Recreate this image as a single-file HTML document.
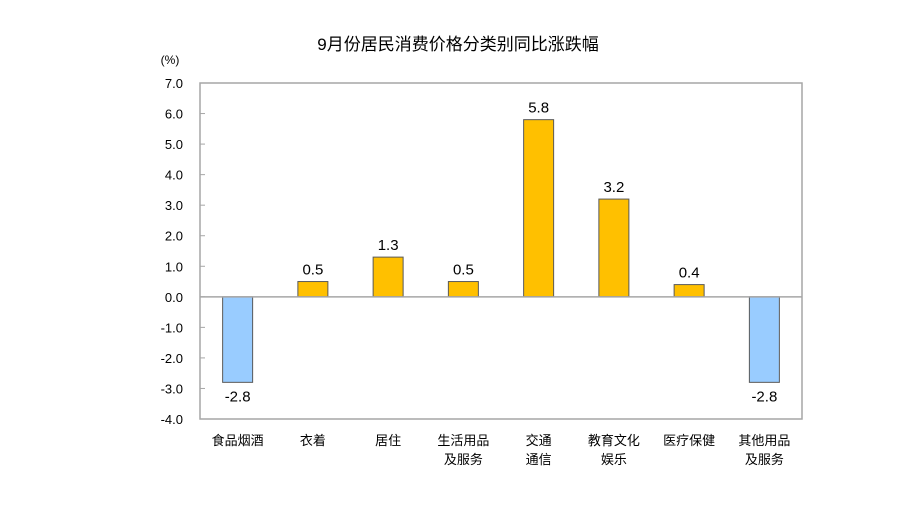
<!DOCTYPE html>
<html><head><meta charset="utf-8"><style>
body{margin:0;background:#fff;width:915px;height:513px;overflow:hidden}
text{font-family:"Liberation Sans","Noto Sans CJK SC",sans-serif}
</style></head><body>
<svg id="chart" width="915" height="513">
<text x="458" y="50" text-anchor="middle" font-size="17" fill="#000">9月份居民消费价格分类别同比涨跌幅</text>
<text x="170" y="64" text-anchor="middle" font-size="12" fill="#000">(%)</text>
<rect x="200" y="83" width="602" height="336" fill="none" stroke="#a6a6a6" stroke-width="1.5"/>
<g id="g"></g>
</svg>
<script>
const categories=[["食品烟酒"],["衣着"],["居住"],["生活用品","及服务"],["交通","通信"],["教育文化","娱乐"],["医疗保健"],["其他用品","及服务"]];
const values=[-2.8,0.5,1.3,0.5,5.8,3.2,0.4,-2.8];
const labels=["-2.8","0.5","1.3","0.5","5.8","3.2","0.4","-2.8"];
const ticks=[7,6,5,4,3,2,1,0,-1,-2,-3,-4];
const tickLabels=["7.0","6.0","5.0","4.0","3.0","2.0","1.0","0.0","-1.0","-2.0","-3.0","-4.0"];
const L=200,R=802,T=83,B=419,ymin=-4,ymax=7;
const y=v=>T+(ymax-v)/(ymax-ymin)*(B-T);
const bw=(R-L)/categories.length;
const x=i=>L+bw*(i+0.5);
const g=document.getElementById('g');
const NS='http://www.w3.org/2000/svg';
function mk(t,a){const e=document.createElementNS(NS,t);for(const k in a)e.setAttribute(k,a[k]);g.appendChild(e);return e;}
ticks.forEach((t,i)=>{
 const l=mk('line',{x1:L,x2:L+5,y1:y(t),y2:y(t),stroke:'#a6a6a6','stroke-width':1});
 
 
 const tx=mk('text',{x:L-17,y:y(t)+5,'text-anchor':'end','font-size':13,fill:'#000'});
 tx.textContent=tickLabels[i];
 
 
});
values.forEach((v,i)=>{
 const y0=y(0),yv=y(v);
 const r=mk('rect',{x:x(i)-15,y:Math.min(y0,yv),width:30,height:Math.abs(yv-y0),fill:v>=0?'#ffc000':'#99ccff',stroke:'#595959','stroke-width':1});
 
 
 const t=mk('text',{x:x(i),y:v>=0?yv-7:yv+19,'text-anchor':'middle','font-size':15,fill:'#000'});
 t.textContent=labels[i];
 
 
 categories[i].forEach((s,j)=>{
  const c=mk('text',{x:x(i),y:445+j*19,'text-anchor':'middle','font-size':13,fill:'#000'});
  c.textContent=s;
  
  
 });
});
const z=mk('line',{x1:L,x2:R,y1:y(0),y2:y(0),stroke:'#a6a6a6','stroke-width':1.5});


</script>
</body></html>
